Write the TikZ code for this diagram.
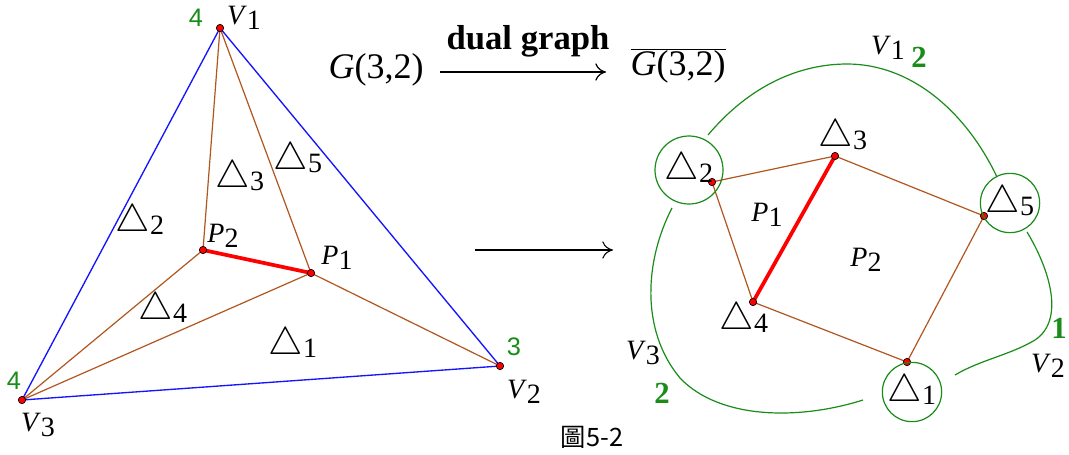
\documentclass[tikz,border=0pt]{standalone}
\usepackage{fontspec}
\usepackage{graphicx}
\setmainfont{Liberation Serif}
\newfontfamily\cjkfont{Noto Sans CJK TC}
\newfontfamily\arialfont{Liberation Sans}
\usetikzlibrary{arrows.meta}
\definecolor{gr}{RGB}{25,140,25}
\definecolor{br}{RGB}{176,86,30}
\definecolor{bl}{RGB}{20,20,255}
\newcommand\lowr[1]{\raisebox{-0.35ex}{#1}}
\newcommand\vlab[2]{\textit{#1}\lowr{#2}}
\newcommand\tlab[1]{\raisebox{-0.1ex}{\scalebox{1.4}{$\triangle$}}\lowr{#1}}
\tikzset{
  vdot/.style={circle,fill=red,draw=black,line width=0.5pt,inner sep=0pt,minimum size=5.5pt},
  lbl/.style={font=\fontsize{21}{21}\selectfont,inner sep=0pt},
  gnum/.style={text=gr,font=\arialfont\fontsize{19}{19}\selectfont,inner sep=0pt},
  gbig/.style={text=gr,font=\bfseries\fontsize{23}{23}\selectfont,inner sep=0pt},
  blueedge/.style={draw=bl,line width=1pt},
  brownedge/.style={draw=br,line width=0.9pt},
  rededge/.style={draw=red,line width=2.8pt},
  greenline/.style={draw=gr,line width=0.9pt},
  gcirc/.style={circle,draw=gr,line width=0.9pt,inner sep=0pt,font=\fontsize{21}{21}\selectfont},
  bigarrow/.style={line width=0.9pt,-{To[length=8pt,width=13pt]}}
}
\begin{document}
\begin{tikzpicture}[x=0.75pt,y=-0.75pt]
\path[use as bounding box,fill=white] (0,0) rectangle (1069,454);

% ---- left graph G(3,2)
\coordinate (V1) at (220,28);
\coordinate (V2) at (500,366);
\coordinate (V3) at (22,400);
\coordinate (P2) at (203,250);
\coordinate (P1) at (311,273);

\draw[blueedge] (V1) -- (V2);
\draw[blueedge] (V2) -- (V3);
\draw[blueedge] (V3) -- (V1);
\draw[brownedge] (V1) -- (P2);
\draw[brownedge] (V1) -- (P1);
\draw[brownedge] (V3) -- (P2);
\draw[brownedge] (V3) -- (P1);
\draw[brownedge] (V2) -- (P1);
\draw[rededge] (P2) -- (P1);
\foreach \n in {V1,V2,V3,P2,P1}
  \node[vdot] (dot\n) at (\n) {};

\node[lbl] (lV1) at (244,18) {\vlab{V}{1}};
\node[lbl] (lV2) at (524,392) {\vlab{V}{2}};
\node[lbl] (lV3) at (38,425) {\vlab{V}{3}};
\node[lbl] (lP2) at (223,236) {\vlab{P}{2}};
\node[lbl] (lP1) at (337,258) {\vlab{P}{1}};
\node[gnum] (n4a) at (196,18) {4};
\node[gnum] (n4b) at (14,381) {4};
\node[gnum] (n3) at (514,347) {3};
\node[lbl] (t1) at (293,345) {\tlab{1}};
\node[lbl] (t2) at (140,222) {\tlab{2}};
\node[lbl] (t3) at (240,178) {\tlab{3}};
\node[lbl] (t4) at (163,310) {\tlab{4}};
\node[lbl] (t5) at (298,160) {\tlab{5}};

% ---- middle
\node[font=\fontsize{27}{27}\selectfont,inner sep=0pt] (G) at (376,70) {\textit{G}(3,2)};
\node[font=\fontsize{27}{27}\selectfont,inner sep=0pt] (Gb) at (678,66) {$\overline{\hbox{\textit{G}(3,2)}}$};
\node[font=\bfseries\fontsize{26}{26}\selectfont,inner sep=0pt] (dg) at (528,41) {dual graph};
\coordinate (a1s) at (440,72);
\coordinate (a1e) at (606,72);
\draw[bigarrow] (a1s) -- (a1e);
\coordinate (a2s) at (475,250);
\coordinate (a2e) at (613,250);
\draw[bigarrow,line width=0.8pt] (a2s) -- (a2e);

% ---- right: dual graph
\coordinate (d2) at (712,182);
\coordinate (d3) at (835,156);
\coordinate (d5) at (984,216);
\coordinate (d4) at (753,302);
\coordinate (d1) at (907,362);
\draw[brownedge] (d2) -- (d3);
\draw[brownedge] (d3) -- (d5);
\draw[brownedge] (d5) -- (d1);
\draw[brownedge] (d1) -- (d4);
\draw[brownedge] (d4) -- (d2);
\draw[rededge] (d4) -- (d3);
\foreach \n in {d1,d2,d3,d4,d5}
  \node[vdot] (dot\n) at (\n) {};

\node[gcirc,minimum size=51pt] (c2) at (689,170) {\tlab{2}};
\node[gcirc,minimum size=36pt] (c5) at (1010,203) {\tlab{5}};
\node[gcirc,minimum size=42pt] (c1) at (912,392) {\tlab{1}};
\node[lbl] (r3) at (843,137) {\tlab{3}};
\node[lbl] (r4) at (744,320) {\tlab{4}};
\node[lbl] (rP1) at (767,215) {\vlab{P}{1}};
\node[lbl] (rP2) at (866,260) {\vlab{P}{2}};

% green vertex curves (faces V1, V3, V2)
\coordinate (u1s) at (708,135);
\coordinate (u1e) at (997,177);
\coordinate (u3s) at (672,208);
\coordinate (u3e) at (863,400);
\coordinate (u2s) at (1027,232);
\coordinate (u2e) at (955,375);
\draw[greenline] (u1s) .. controls (750,85) and (800,64) .. (847,64)
                      .. controls (910,64) and (965,110) .. (u1e);
\draw[greenline] (u3s) .. controls (645,260) and (640,330) .. (680,378)
                      .. controls (720,420) and (800,420) .. (u3e);
\draw[greenline] (u2s) .. controls (1050,270) and (1065,320) .. (1035,340)
                      .. controls (1010,355) and (980,360) .. (u2e);

\node[lbl] (rV1) at (888,48) {\vlab{V}{1}};
\node[gbig] (g2a) at (919,57) {2};
\node[lbl] (rV3) at (643,353) {\vlab{V}{3}};
\node[gbig] (g2b) at (662,393) {2};
\node[gbig] (g1) at (1059,328) {1};
\node[lbl] (rV2) at (1048,366) {\vlab{V}{2}};

\node[font=\cjkfont\fontsize{19}{19}\selectfont,inner sep=0pt] (cap) at (592,437) {圖5-2};
\end{tikzpicture}
\end{document}
